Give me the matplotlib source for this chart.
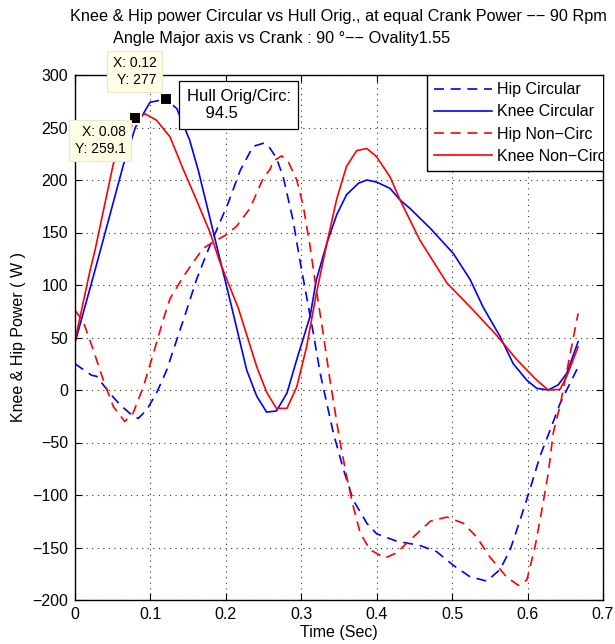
import matplotlib
matplotlib.use('Agg')
import matplotlib.pyplot as plt

plt.rcParams['font.family'] = ['Liberation Sans', 'DejaVu Sans']
plt.rcParams['font.size'] = 11.5

# Hip Circular (blue dashed)
hip_circ_t = [0, 0.022, 0.0288, 0.046, 0.0597, 0.077, 0.084, 0.095, 0.108, 0.1216, 0.135, 0.148,
              0.161, 0.1746, 0.181, 0.203, 0.219, 0.236, 0.2497, 0.256, 0.267, 0.276, 0.289, 0.298,
              0.307, 0.316, 0.325, 0.3425, 0.356, 0.369, 0.387, 0.400, 0.4265, 0.457, 0.4795, 0.5016,
              0.524, 0.546, 0.5635, 0.577, 0.590, 0.603, 0.6165, 0.630, 0.643, 0.667]
hip_circ_p = [25, 14, 13, -3, -14, -25, -27, -19, -3, 19, 48, 76,
              105, 130, 141, 178, 209, 232, 235, 233, 221, 203, 162, 124,
              89, 54, 16, -41, -76, -105, -127, -137, -144, -148, -154, -167,
              -178, -182, -171, -152, -124, -95, -63, -38, -13, 22]

# Knee Circular (blue solid)
knee_circ_t = [0, 0.0265, 0.064, 0.08, 0.0994, 0.12, 0.135, 0.152, 0.1635, 0.192, 0.2077, 0.2276,
               0.241, 0.254, 0.267, 0.281, 0.294, 0.3116, 0.320, 0.334, 0.347, 0.360, 0.376, 0.387,
               0.400, 0.4176, 0.431, 0.444, 0.471, 0.5016, 0.524, 0.541, 0.5635, 0.581, 0.5988,
               0.612, 0.6275, 0.6408, 0.652, 0.667]
knee_circ_p = [45, 114, 214, 250, 274, 277, 268, 238, 209, 125, 79, 19,
               -6, -21, -20, -3, 29, 70, 105, 140, 167, 186, 197, 200,
               198, 192, 181, 173, 154, 130, 105, 79, 51, 25, 9.5,
               1.6, 0, 5, 16, 46]

# Hip Non-Circ (red dashed)
hip_nc_t = [0, 0.011, 0.0243, 0.0375, 0.051, 0.066, 0.077, 0.0906, 0.104, 0.117, 0.126, 0.1436,
            0.157, 0.170, 0.186, 0.201, 0.2143, 0.232, 0.2497, 0.2585, 0.263, 0.274, 0.283, 0.294,
            0.3027, 0.3116, 0.320, 0.329, 0.338, 0.351, 0.360, 0.369, 0.378, 0.391, 0.411, 0.4265,
            0.444, 0.471, 0.493, 0.515, 0.5325, 0.550, 0.572, 0.5877, 0.599, 0.610, 0.619, 0.6275,
            0.634, 0.643, 0.667]
hip_nc_p = [76, 65, 38, 9.5, -16, -30, -22, 3, 35, 67, 87, 108,
            122, 135, 142, 148, 156, 173, 202, 210, 218, 223, 217, 200,
            175, 137, 95, 54, 9.5, -48, -82, -111, -136, -152, -160, -155,
            -143, -125, -121, -127, -140, -159, -178, -186, -181, -149, -114, -79,
            -41, -15, 73]

# Knee Non-Circ (red solid)
knee_nc_t = [0, 0.020, 0.0265, 0.051, 0.0685, 0.08, 0.0928, 0.108, 0.126, 0.1436, 0.161, 0.179,
             0.192, 0.2165, 0.241, 0.254, 0.267, 0.281, 0.294, 0.307, 0.320, 0.334, 0.347, 0.360,
             0.3735, 0.387, 0.400, 0.4176, 0.431, 0.457, 0.493, 0.528, 0.559, 0.5856, 0.612,
             0.6275, 0.643, 0.652, 0.667]
knee_nc_p = [47, 114, 133, 216, 241, 259, 263, 257, 241, 210, 181, 150,
             122, 78, 22, -2, -17.5, -17.5, 3, 41, 92, 140, 182, 213,
             228, 230, 222, 203, 181, 143, 102, 76, 52, 29, 9.5,
             0, 0.6, 13, 41]

tips = [(0.12, 277), (0.08, 259.1)]
ratio = 94.5

fig = plt.figure(figsize=(6.15, 6.44), dpi=100)
ax = fig.add_axes([75/615, 1-600/644, 528/615, 525/644])

lw = 1.2
ax.plot(hip_circ_t, hip_circ_p, '--', color='#0000ff', lw=lw, dashes=(6, 4), label='Hip Circular')
ax.plot(knee_circ_t, knee_circ_p, '-', color='#0000ff', lw=lw, label='Knee Circular')
ax.plot(hip_nc_t, hip_nc_p, '--', color='#ff0000', lw=lw, dashes=(6, 4), label='Hip Non\u2212Circ')
ax.plot(knee_nc_t, knee_nc_p, '-', color='#ff0000', lw=lw, label='Knee Non\u2212Circ')

ax.set_xlim(0, 0.7)
ax.set_ylim(-200, 300)
ax.set_xticks([0, 0.1, 0.2, 0.3, 0.4, 0.5, 0.6, 0.7])
ax.set_xticklabels(['0', '0.1', '0.2', '0.3', '0.4', '0.5', '0.6', '0.7'])
ax.set_yticks(range(-200, 301, 50))
ax.set_yticklabels([str(v).replace('-', '\u2212') for v in range(-200, 301, 50)])
ax.tick_params(direction='in', top=True, right=True, length=5, width=0.8, pad=5)
ax.grid(True, linestyle=(0, (1, 4)), color='#333333', linewidth=0.8)
for s in ax.spines.values():
    s.set_linewidth(1.0)

ax.set_xlabel('Time (Sec)', labelpad=2)
ax.set_ylabel('Knee & Hip Power ( W )', labelpad=4)
# two title lines (MATLAB pads the shorter row, so line 2 sits left of centre)
fig.text(338/615, 1-17/644, 'Knee & Hip power Circular vs Hull Orig., at equal Crank Power \u2212\u2212 90 Rpm',
         ha='center', va='center', fontsize=11.7)
fig.text(281.5/615, 1-38/644, 'Angle Major axis vs Crank : 90 \u00b0\u2212\u2212 Ovality1.55',
         ha='center', va='center', fontsize=11.7)

leg = ax.legend(loc='upper left', bbox_to_anchor=(0.667, 1.0), frameon=True, fancybox=False,
                edgecolor='black', framealpha=1, handlelength=3.6, borderpad=0.45,
                labelspacing=0.45, handletextpad=0.3, borderaxespad=0)
leg.get_frame().set_linewidth(1.0)
for t in leg.get_texts():
    t.set_clip_box(ax.bbox)
    t.set_clip_on(True)
leg.get_frame().set_clip_box(ax.bbox)
leg.get_frame().set_clip_on(True)

# data tips
for (tx, ty) in tips:
    ax.plot([tx], [ty], 's', color='black', ms=8, mec='#fffff0', mew=1.5, clip_on=False, zorder=5)
tipbox = dict(boxstyle='square,pad=0.4', fc='#ffffe6', ec='#e8e8cc', lw=0.8)
ax.text(0.108, 289, 'X: 0.12\nY: 277', ha='right', va='bottom', fontsize=10,
        multialignment='right', bbox=tipbox, clip_on=False, zorder=6)
ax.text(0.067, 252, 'X: 0.08\nY: 259.1', ha='right', va='top', fontsize=10,
        multialignment='right', bbox=tipbox, clip_on=False, zorder=6)
ax.text(0.148, 287, 'Hull Orig/Circ:\n    %.1f' % ratio, ha='left', va='top', fontsize=12,
        bbox=dict(boxstyle='square,pad=0.45', fc='white', ec='black', lw=0.9), zorder=6)

fig.savefig('out.png', dpi=100)
